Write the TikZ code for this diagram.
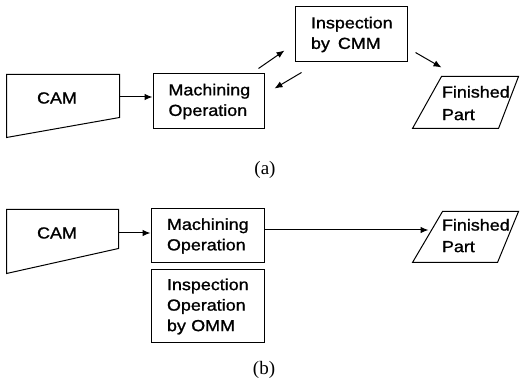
\documentclass[tikz,border=0pt]{standalone}
\usepackage{fontspec}
\setmainfont{Liberation Sans}[FakeStretch=1.12,FakeBold=1.2]
\newfontfamily\capfont{Liberation Serif}
\usetikzlibrary{arrows.meta}
\begin{document}
\begin{tikzpicture}[x=1pt,y=-1pt,
  line width=1pt,
  every node/.style={font=\fontsize{16}{20.5}\selectfont},
  procbox/.style={draw, rectangle, align=left, inner ysep=0pt},
  hull/.style={rectangle, inner sep=0pt, draw=none},
  txt/.style={inner sep=0pt, align=left},
  arr/.style={-{Latex[length=8pt,width=6.5pt]}},
  captext/.style={font=\capfont\fontsize{19}{22}\selectfont}]
\useasboundingbox (0,0) rectangle (520,382);

% ---------- (a) ----------
\node[hull, minimum width=112pt, minimum height=62pt] (camA) at (63,106) {};
\draw (camA.north west) -- (camA.north east) -- ([yshift=20pt]camA.south east)
      -- (camA.south west) -- cycle;
\node[txt] (camAt) at (57,98) {CAM};

\node[procbox, text width=80pt, inner xsep=15.5pt, minimum height=55pt] (machA)
  at (208.5,101.5) {Machining\\Operation};
\node[procbox, text width=80pt, inner xsep=16pt, minimum height=55pt] (inspA)
  at (351,34.5) {Inspection\\by\hspace{8pt}CMM};

\node[hull, minimum width=105pt, minimum height=51pt] (finA) at (465.5,102.5) {};
\draw ([xshift=29pt]finA.north west) -- (finA.north east)
      -- ([xshift=-20pt]finA.south east) -- (finA.south west) -- cycle;
\node[txt, anchor=north west] (finAt) at ([shift={(29pt,-9pt)}]finA.north west)
  {Finished\\[2pt]Part};

\draw[arr] ([yshift=9pt]camA.east) -- ([yshift=4.5pt]machA.west);
\draw[arr] ([shift={(-6pt,5pt)}]machA.north east) -- ([shift={(-10pt,12pt)}]inspA.south west);
\draw[arr] ([shift={(7pt,-10pt)}]inspA.south west) -- ([shift={(10pt,-15pt)}]machA.north east);
\draw[arr] ([shift={(8pt,10pt)}]inspA.south east) -- ([shift={(29pt,9pt)}]finA.north west);

\node[captext] (capA) at (265,170) {(a)};

% ---------- (b) ----------
\node[hull, minimum width=111pt, minimum height=63pt] (camB) at (62.5,241.5) {};
\draw (camB.north west) -- (camB.north east) -- ([yshift=25pt]camB.south east)
      -- (camB.south west) -- cycle;
\node[txt] (camBt) at (57,233) {CAM};

\node[procbox, text width=81pt, inner xsep=16pt, minimum height=54pt] (machB)
  at (207.5,236) {Machining\\Operation};
\node[procbox, text width=81pt, inner xsep=16pt, minimum height=73pt] (inspB)
  at (207.5,306.5) {Inspection\\Operation\\by OMM};

\node[hull, minimum width=105pt, minimum height=50pt] (finB) at (465.5,237) {};
\draw ([xshift=30pt]finB.north west) -- (finB.north east)
      -- ([xshift=-21pt]finB.south east) -- (finB.south west) -- cycle;
\node[txt, anchor=north west] (finBt) at ([shift={(29pt,-7pt)}]finB.north west)
  {Finished\\[1pt]Part};

\draw[arr] ([yshift=8.5pt]camB.east) -- ([yshift=3pt]machB.west);
\draw[arr] ([yshift=6pt]machB.east) -- ([shift={(16pt,7pt)}]finB.west);

\node[captext] (capB) at (264,370) {(b)};
\end{tikzpicture}
\end{document}
